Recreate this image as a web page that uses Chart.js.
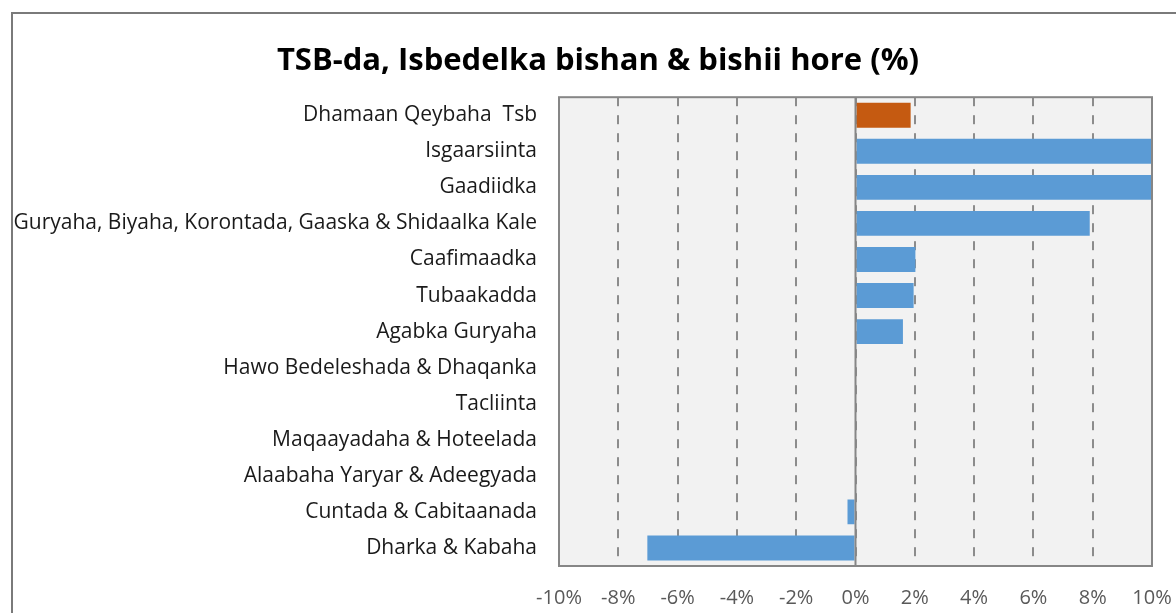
<!DOCTYPE html>
<html>
<head>
<meta charset="utf-8">
<script src="https://cdn.jsdelivr.net/npm/chart.js@4/dist/chart.umd.min.js"></script>
<style>
  html, body { margin: 0; padding: 0; background: #fff; overflow: hidden; }
  #frame { position: absolute; left: 11px; top: 12px; width: 1300px; height: 800px; border: 2px solid #7a7a7a; }
  #wrap { position: absolute; left: 0; top: 0; width: 1176px; height: 613px; }
</style>
</head>
<body>
<div id="frame"></div>
<div id="wrap"><canvas id="tsbChart" width="1176" height="613"></canvas></div>
<script>
// TSB-da chart data
const categories = [
  "Dhamaan Qeybaha  Tsb",
  "Isgaarsiinta",
  "Gaadiidka",
  "Guryaha, Biyaha, Korontada, Gaaska & Shidaalka Kale",
  "Caafimaadka",
  "Tubaakadda",
  "Agabka Guryaha",
  "Hawo Bedeleshada & Dhaqanka",
  "Tacliinta",
  "Maqaayadaha & Hoteelada",
  "Alaabaha Yaryar & Adeegyada",
  "Cuntada & Cabitaanada",
  "Dharka & Kabaha"
];
const changeValues = [1.86, 12, 12, 7.9, 2.02, 1.96, 1.6, 0, 0, 0, 0, -0.27, -7.02];
const xTicks = [-10, -8, -6, -4, -2, 0, 2, 4, 6, 8, 10];

const blue = "#5b9bd5";
const orange = "#c55a11";

// plot background, zero line and frame
const plotDecor = {
  id: "plotDecor",
  beforeDraw(chart) {
    const a = chart.chartArea;
    const ctx = chart.ctx;
    ctx.save();
    ctx.fillStyle = "#f2f2f2";
    ctx.fillRect(a.left, a.top, a.right - a.left, a.bottom - a.top);
    ctx.restore();
  },
  afterDatasetsDraw(chart) {
    const a = chart.chartArea;
    const ctx = chart.ctx;
    const x0 = chart.scales.x.getPixelForValue(0);
    ctx.save();
    ctx.strokeStyle = "#868686";
    ctx.lineWidth = 2;
    ctx.beginPath();
    ctx.moveTo(x0, a.top);
    ctx.lineTo(x0, a.bottom);
    ctx.stroke();
    ctx.strokeRect(a.left, a.top, a.right - a.left, a.bottom - a.top);
    ctx.restore();
  }
};

const ctx = document.getElementById("tsbChart").getContext("2d");
new Chart(ctx, {
  type: "bar",
  data: {
    labels: categories,
    datasets: [{
      data: changeValues,
      backgroundColor: changeValues.map((v, i) => i === 0 ? orange : blue),
      barPercentage: 0.69,
      categoryPercentage: 1
    }]
  },
  options: {
    indexAxis: "y",
    responsive: false,
    animation: false,
    layout: { padding: { left: 44, right: 24, top: 0, bottom: 0 } },
    plugins: {
      legend: { display: false },
      tooltip: { enabled: false },
      title: {
        display: true,
        text: "TSB-da, Isbedelka bishan & bishii hore (%)",
        color: "#000",
        font: { family: "'Open Sans', sans-serif", size: 31, weight: "bold" },
        padding: { top: 43, bottom: 17 }
      }
    },
    scales: {
      x: {
        min: -10,
        max: 10,
        afterBuildTicks(scale) { scale.ticks = xTicks.map(v => ({ value: v })); },
        afterFit(scale) {
          scale.height = 47;
          scale.paddingLeft = 0;
          scale.paddingRight = 0;
        },
        grid: { color: "#8c8c8c", lineWidth: 2, drawTicks: false },
        border: { display: false, dash: [9, 9] },
        ticks: {
          padding: 20,
          color: "#595959",
          font: { family: "'Open Sans', sans-serif", size: 20 },
          callback: v => v + "%"
        }
      },
      y: {
        afterFit(scale) {
          scale.width = 559 - 44;
          // let the long label run past the scale box instead of being clipped
          scale._computeLabelArea = () => undefined;
        },
        grid: { display: false },
        border: { display: false },
        ticks: {
          padding: 14,
          color: "#1a1a1a",
          font: { family: "'Open Sans', sans-serif", size: 21 }
        }
      }
    }
  },
  plugins: [plotDecor]
});
</script>
</body>
</html>
